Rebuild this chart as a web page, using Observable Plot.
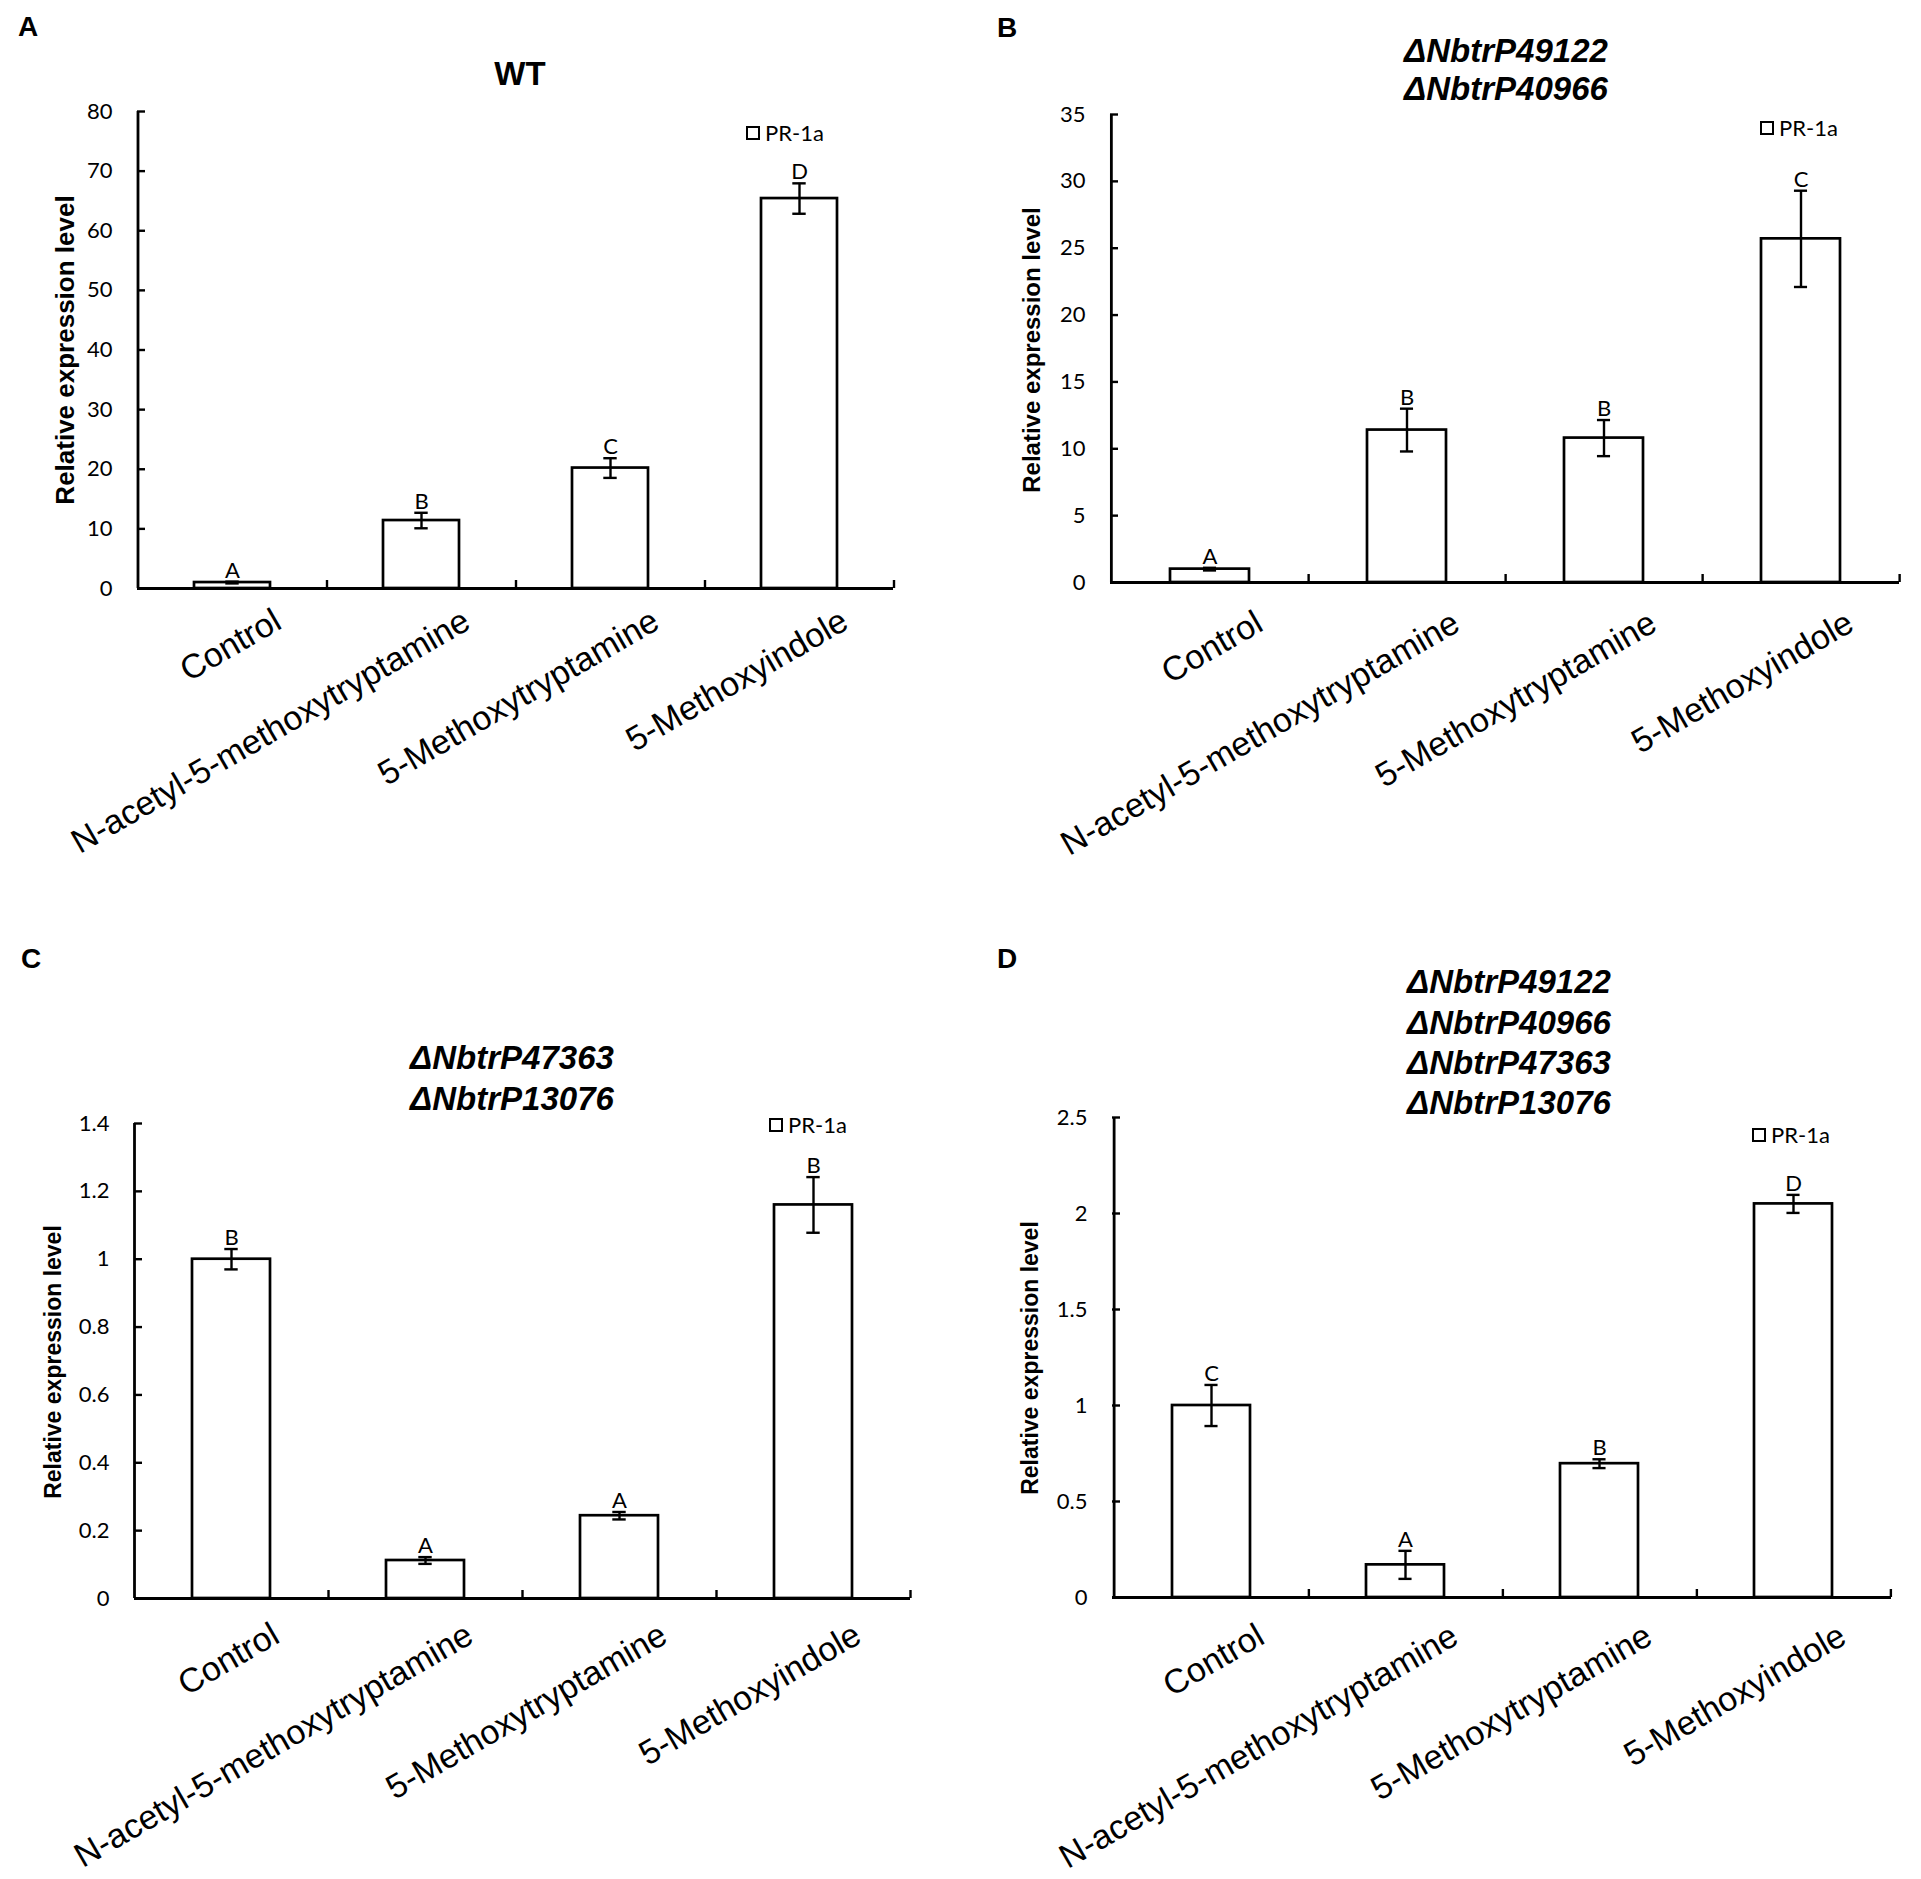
<!DOCTYPE html>
<html>
<head>
<meta charset="utf-8">
<script src="https://cdn.jsdelivr.net/npm/d3@7"></script>
<script src="https://cdn.jsdelivr.net/npm/@observablehq/plot@0.6"></script>
<style>
  html, body { margin: 0; padding: 0; background: #fff; }
  #page { position: relative; width: 1921px; height: 1879px; background: #fff; overflow: hidden; }
  .abs { position: absolute; }
  .plabel { font-family: "Liberation Sans", Arial, sans-serif; font-weight: bold; font-size: 28px; line-height: 28px; color: #000; }
  .title { font-family: "Liberation Sans", Arial, sans-serif; font-weight: bold; font-size: 33px; color: #000; text-align: center; width: 500px; }
  .title.it { font-style: italic; }
  .ylab { font-family: "Liberation Sans", Arial, sans-serif; font-weight: bold; color: #000; white-space: nowrap; transform: translate(-50%, -50%) rotate(-90deg); line-height: 1; }
  .legend { font-family: Lato, "Noto Sans", sans-serif; font-size: 22px; line-height: 22px; display: flex; align-items: center; color: #000; }
  .legend .box { width: 14px; height: 14px; box-sizing: border-box; border: 2.6px solid #000; margin-right: 5px; background: #fff; }
</style>
</head>
<body>
<div id="page"></div>
<script>
// ---------- data ----------
const categories = ["Control", "N-acetyl-5-methoxytryptamine", "5-Methoxytryptamine", "5-Methoxyindole"];
const seriesName = "PR-1a";

const wtValues  = [1.0, 11.4, 20.2, 65.4];
const wtErrors  = [0.15, 1.3, 1.65, 2.55];
const wtLetters = ["A", "B", "C", "D"];
const wtTicks   = [0, 10, 20, 30, 40, 50, 60, 70, 80];

const dblValues  = [1.0, 11.4, 10.8, 25.7];
const dblErrors  = [0.1, 1.6, 1.35, 3.6];
const dblLetters = ["A", "B", "B", "C"];
const dblTicks   = [0, 5, 10, 15, 20, 25, 30, 35];

const dbl2Values  = [1.0, 0.112, 0.244, 1.16];
const dbl2Errors  = [0.03, 0.01, 0.011, 0.082];
const dbl2Letters = ["B", "A", "A", "B"];
const dbl2Ticks   = [0, 0.2, 0.4, 0.6, 0.8, 1, 1.2, 1.4];

const quadValues  = [1.0, 0.17, 0.697, 2.05];
const quadErrors  = [0.107, 0.073, 0.023, 0.047];
const quadLetters = ["C", "A", "B", "D"];
const quadTicks   = [0, 0.5, 1, 1.5, 2, 2.5];

const panelLetters = ["A", "B", "C", "D"];
const titleA = ["WT"];
const titleB = ["ΔNbtrP49122", "ΔNbtrP40966"];
const titleC = ["ΔNbtrP47363", "ΔNbtrP13076"];
const titleD = ["ΔNbtrP49122", "ΔNbtrP40966", "ΔNbtrP47363", "ΔNbtrP13076"];
const yLabel = "Relative expression level";

// ---------- drawing ----------
const page = document.getElementById("page");

function addDiv(cls, css, html) {
  const d = document.createElement("div");
  d.className = "abs " + cls;
  Object.assign(d.style, css);
  d.innerHTML = html;
  page.appendChild(d);
  return d;
}

function panel(cfg) {
  const {left, top, width, height, mL, mR, mT, mB, values, errors, letters, yTicks, lblDx, lblDy} = cfg;
  const fw = width - mL - mR, fh = height - mT - mB;
  const step = fw / categories.length;
  const bw = step * 0.4;
  const capInset = (bw - 13) / 2;
  const rows = categories.map((c, i) => ({
    cat: c, value: values[i], lo: values[i] - errors[i], hi: values[i] + errors[i], letter: letters[i]
  }));
  const yMax = yTicks[yTicks.length - 1];
  const chart = Plot.plot({
    width, height,
    marginLeft: mL, marginRight: mR, marginTop: mT, marginBottom: mB,
    style: {fontFamily: "Lato, sans-serif", fontSize: "22px", color: "#000", background: "transparent", overflow: "visible"},
    x: {domain: categories, paddingInner: 0.6, paddingOuter: 0.3, align: 0.5, axis: null},
    y: {domain: [0, yMax], axis: null},
    marks: [
      Plot.barY(rows, {x: "cat", y: "value", fill: "white", stroke: "black", strokeWidth: 2.7}),
      Plot.ruleX(rows, {x: "cat", y1: "lo", y2: "hi", stroke: "black", strokeWidth: 2.4}),
      Plot.tickY(rows, {x: "cat", y: "lo", insetLeft: capInset, insetRight: capInset, stroke: "black", strokeWidth: 2.4}),
      Plot.tickY(rows, {x: "cat", y: "hi", insetLeft: capInset, insetRight: capInset, stroke: "black", strokeWidth: 2.4}),
      Plot.ruleY([0], {stroke: "black", strokeWidth: 2.8}),
      Plot.ruleX([categories[0]], {x: d => d, dx: -step / 2, stroke: "black", strokeWidth: 2.8}),
      Plot.ruleX(categories, {x: d => d, dx: step / 2, insetTop: fh - 8, stroke: "black", strokeWidth: 2.4}),
      Plot.ruleY(yTicks, {y: d => d, insetRight: fw - 8, stroke: "black", strokeWidth: 2.4}),
      Plot.axisY({ticks: yTicks, tickSize: 0, tickPadding: 25, tickFormat: d => String(d), fontSize: 22, fontFamily: "Lato, sans-serif", label: null}),
      Plot.text(rows, {x: "cat", y: "hi", text: "letter", dy: -4, lineAnchor: "bottom", fontSize: 22, fontFamily: "Lato, sans-serif", fill: "black"}),
      Plot.text(categories, {x: d => d, frameAnchor: "bottom", text: d => d, rotate: -30, textAnchor: "end", lineAnchor: "bottom",
        dx: lblDx, dy: lblDy, fontSize: 34, fontFamily: "Liberation Sans, Arial, sans-serif", fill: "black"})
    ]
  });
  chart.style.position = "absolute";
  chart.style.left = left + "px";
  chart.style.top = top + "px";
  page.appendChild(chart);
}

panel({left: 0, top: 0, width: 960, height: 940, mL: 137, mR: 67, mT: 111, mB: 352,
  values: wtValues, errors: wtErrors, letters: wtLetters, yTicks: wtTicks, lblDx: 51, lblDy: 39});
panel({left: 960, top: 0, width: 961, height: 940, mL: 150, mR: 22, mT: 114, mB: 358,
  values: dblValues, errors: dblErrors, letters: dblLetters, yTicks: dblTicks, lblDx: 55, lblDy: 47});
panel({left: 0, top: 940, width: 960, height: 939, mL: 134, mR: 50, mT: 183, mB: 281,
  values: dbl2Values, errors: dbl2Errors, letters: dbl2Letters, yTicks: dbl2Ticks, lblDx: 50, lblDy: 43});
panel({left: 960, top: 940, width: 961, height: 939, mL: 152, mR: 30, mT: 177, mB: 282,
  values: quadValues, errors: quadErrors, letters: quadLetters, yTicks: quadTicks, lblDx: 55, lblDy: 45});

// panel letters
const plPos = [[18, 13], [997, 14], [21, 945], [997, 945]];
panelLetters.forEach((t, i) => addDiv("plabel", {left: plPos[i][0] + "px", top: plPos[i][1] + "px"}, t));

// titles
function title(lines, cx, firstCenter, lh, italic) {
  addDiv("title" + (italic ? " it" : ""), {left: (cx - 250) + "px", top: (firstCenter - lh / 2) + "px", lineHeight: lh + "px"},
    lines.join("<br>"));
}
title(titleA, 520, 74, 36, false);
title(titleB, 1506, 51, 37.5, true);
title(titleC, 512, 1058.5, 40.5, true);
title(titleD, 1509, 982.5, 40.3, true);

// y labels
const ylPos = [[64.5, 350, 26], [1032, 349.5, 24], [53, 1362, 23], [1030, 1358, 23]];
ylPos.forEach(([x, y, fs]) => addDiv("ylab", {left: x + "px", top: y + "px", fontSize: fs + "px"}, yLabel));

// legends
const lgPos = [[746, 133], [1760, 128], [769, 1125], [1752, 1135]];
lgPos.forEach(([x, y]) => addDiv("legend", {left: x + "px", top: (y - 11) + "px"}, '<span class="box"></span>' + seriesName));
</script>
</body>
</html>
